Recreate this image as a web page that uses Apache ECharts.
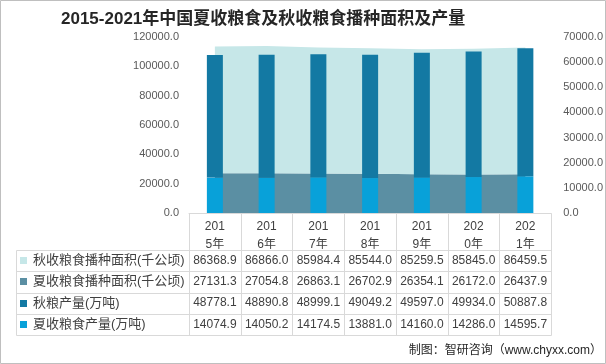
<!DOCTYPE html>
<html><head><meta charset="utf-8">
<script src="https://cdn.jsdelivr.net/npm/echarts@6/dist/echarts.min.js"></script>
<style>html,body{margin:0;padding:0;background:#fff}#c{width:606px;height:364px}</style>
</head><body><div id="c"></div>
<script>
// ---- data ----
const categories = ['2015年', '2016年', '2017年', '2018年', '2019年', '2020年', '2021年'];
const autumnArea = [86368.9, 86866.0, 85984.4, 85544.0, 85259.5, 85845.0, 86459.5];
const summerArea = [27131.3, 27054.8, 26863.1, 26702.9, 26354.1, 26172.0, 26437.9];
const autumnOutput = [48778.1, 48890.8, 48999.1, 49049.2, 49597.0, 49934.0, 50887.8];
const summerOutput = [14074.9, 14050.2, 14174.5, 13881.0, 14160.0, 14286.0, 14595.7];
const seriesNames = ['秋收粮食播种面积(千公顷)', '夏收粮食播种面积(千公顷)', '秋粮产量(万吨)', '夏收粮食产量(万吨)'];
const leftAxisRange = [0, 120000, 20000];
const rightAxisRange = [0, 70000, 10000];
const titleText = '2015-2021年中国夏收粮食及秋收粮食播种面积及产量';
const sourceText = '制图：智研咨询（www.chyxx.com）';

// ---- styles ----
const colors = ['#c6e7e8', '#5b8fa3', '#1379a3', '#08a1d9'];
const lineColor = '#d9d9d9';
const textColor = '#404040';
const font = '"Liberation Sans", "Noto Sans CJK SC", sans-serif';

const chart = echarts.init(document.getElementById('c'));
const tableRows = [autumnArea, summerArea, autumnOutput, summerOutput];

chart.setOption({
  animation: false,
  textStyle: { fontFamily: font },
  title: {
    text: titleText, left: 56, top: 6,
    textStyle: { fontSize: 17, fontWeight: 'bold', color: '#262626', fontFamily: font }
  },
  grid: { left: 189, right: 54, top: 37, height: 176 },
  xAxis: {
    type: 'category', data: categories, boundaryGap: true,
    axisLine: { show: true, lineStyle: { color: lineColor } },
    axisTick: { show: false },
    axisLabel: {
      interval: 0, margin: 5, fontSize: 12, lineHeight: 18, color: textColor,
      formatter: v => v.slice(0, 3) + '\n' + v.slice(3)
    }
  },
  yAxis: [
    {
      type: 'value', min: leftAxisRange[0], max: leftAxisRange[1], interval: leftAxisRange[2],
      splitLine: { show: false }, axisLine: { show: false }, axisTick: { show: false },
      axisLabel: { fontSize: 11, color: '#595959', margin: 10, formatter: v => v.toFixed(1) }
    },
    {
      type: 'value', min: rightAxisRange[0], max: rightAxisRange[1], interval: rightAxisRange[2],
      splitLine: { show: false }, axisLine: { show: false }, axisTick: { show: false },
      axisLabel: { fontSize: 11, color: '#595959', margin: 12, formatter: v => v.toFixed(1) }
    }
  ],
  series: [
    { name: seriesNames[1], type: 'line', stack: 'area', yAxisIndex: 0, data: summerArea,
      symbol: 'none', lineStyle: { width: 0 }, areaStyle: { color: colors[1], opacity: 1 }, z: 1 },
    { name: seriesNames[0], type: 'line', stack: 'area', yAxisIndex: 0, data: autumnArea,
      symbol: 'none', lineStyle: { width: 0 }, areaStyle: { color: colors[0], opacity: 1 }, z: 1 },
    { name: seriesNames[3], type: 'bar', stack: 'out', yAxisIndex: 1, data: summerOutput,
      barWidth: 16, itemStyle: { color: colors[3] }, z: 3 },
    { name: seriesNames[2], type: 'bar', stack: 'out', yAxisIndex: 1, data: autumnOutput,
      barWidth: 16, itemStyle: { color: colors[2] }, z: 3 }
  ]
});

// ---- data table built from axis positions ----
function buildTable() {
  const c0 = chart.convertToPixel({ xAxisIndex: 0 }, 0);
  const c1 = chart.convertToPixel({ xAxisIndex: 0 }, 1);
  const band = c1 - c0;
  const y0 = chart.convertToPixel({ yAxisIndex: 0 }, 0);
  const headerH = 37, rowH = 21.25, leftX = 16;
  const xs = categories.map((_, i) => chart.convertToPixel({ xAxisIndex: 0 }, i));
  const xLeft = xs[0] - band / 2, xRight = xs[xs.length - 1] + band / 2;
  const tableTop = y0 + headerH, tableBottom = tableTop + rowH * tableRows.length;
  const g = [];
  const ln = (x1, y1, x2, y2) => g.push({ type: 'line', silent: true, z: 10,
    shape: { x1: Math.round(x1) + 0.5, y1: Math.round(y1) + 0.5, x2: Math.round(x2) + 0.5, y2: Math.round(y2) + 0.5 },
    style: { stroke: lineColor, lineWidth: 1 } });
  for (let i = 0; i <= categories.length; i++) {
    const x = xLeft + i * band;
    ln(x, y0, x, tableBottom);
  }
  ln(leftX, tableTop, leftX, tableBottom);
  for (let r = 0; r <= tableRows.length; r++) {
    const y = tableTop + r * rowH;
    ln(leftX, y, xRight, y);
  }
  tableRows.forEach((row, r) => {
    const yc = tableTop + (r + 0.5) * rowH;
    g.push({ type: 'rect', silent: true, z: 10, shape: { x: 20, y: Math.round(yc - 3.5), width: 7, height: 7 }, style: { fill: colors[r] } });
    g.push({ type: 'text', silent: true, z: 10, x: 33, y: yc,
      style: { text: seriesNames[r], fontSize: 13, fill: textColor, verticalAlign: 'middle', align: 'left', fontFamily: font } });
    row.forEach((v, i) => {
      g.push({ type: 'text', silent: true, z: 10, x: xs[i], y: yc,
        style: { text: v.toFixed(1), fontSize: 12, fill: textColor, verticalAlign: 'middle', align: 'center', fontFamily: font } });
    });
  });
  g.push({ type: 'text', silent: true, z: 10, right: 4, top: 345,
    style: { text: sourceText, fontSize: 12, fill: '#262626', fontFamily: font } });
  g.push({ type: 'rect', silent: true, z: 20, shape: { x: 0.5, y: 0.5, width: 605, height: 363 },
    style: { fill: 'none', stroke: '#bfbfbf', lineWidth: 1 } });
  chart.setOption({ graphic: g });
}
buildTable();
</script></body></html>
